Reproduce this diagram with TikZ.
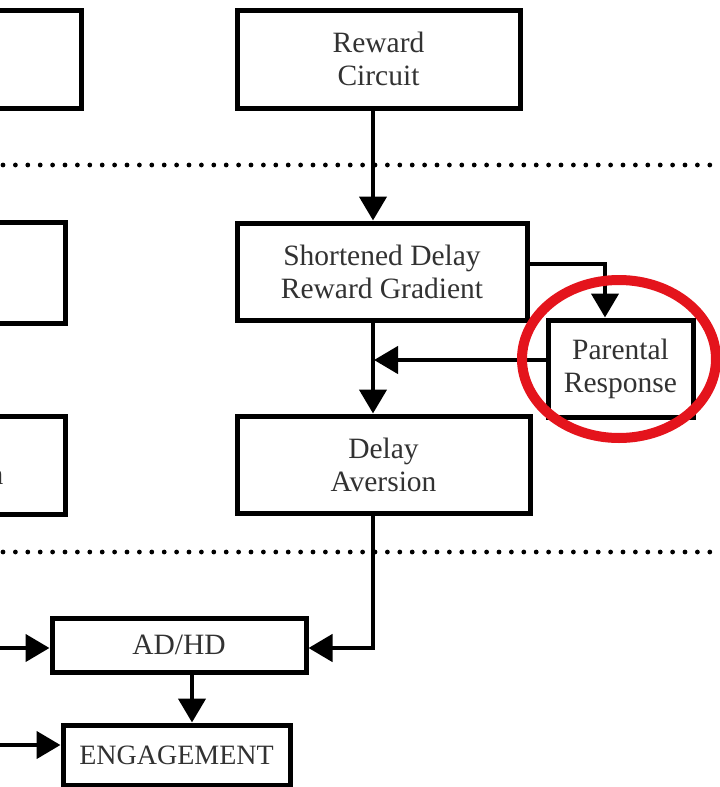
\documentclass[tikz,border=0pt]{standalone}
\usepackage{fontspec}
\setmainfont{Liberation Serif}
\usetikzlibrary{arrows.meta}

\definecolor{ringred}{RGB}{228,20,28}
\definecolor{txtgray}{RGB}{50,50,50}

\tikzset{
  blk/.style={draw=black, line width=5pt, rectangle, inner sep=0pt,
    align=center, text=txtgray, font=\fontsize{29.5}{33}\selectfont},
  conn/.style={line width=4.5pt, -{Triangle[length=24pt,width=27pt]}},
  sep/.style={line width=4.8pt, line cap=round, dash pattern=on 0pt off 12.4pt},
}

\begin{document}
\begin{tikzpicture}[x=1pt, y=-1pt]
  \useasboundingbox (0,0) rectangle (720,787);

  % boxes of the left column (cut off by the page edge)
  \node[blk, minimum width=111pt, minimum height=98pt] (lt) at (25.5,59) {};
  \node[blk, minimum width=95pt, minimum height=101pt] (lm) at (17.5,272.5) {};
  \node[blk, minimum width=95pt, minimum height=98pt] (lb) at (17.5,465) {};
  \node[text=txtgray, font=\fontsize{29.5}{33}\selectfont, inner sep=0pt] (lbtext) at (-4,478) {n};

  % main column
  \node[blk, minimum width=283pt, minimum height=98pt] (rc) at (378.5,59) {Reward\\Circuit};
  \node[blk, minimum width=290pt, minimum height=97pt] (sd) at (382,271.5) {Shortened Delay\\Reward Gradient};
  \node[blk, minimum width=145pt, minimum height=97pt] (pr) at (620.5,368.5) {Parental\\Response};
  \node[blk, minimum width=293pt, minimum height=97pt] (da) at (383.5,464.5) {Delay\\Aversion};
  \node[blk, minimum width=254pt, minimum height=54pt] (ad) at (179,645) {AD/HD};
  \node[blk, minimum width=227pt, minimum height=60pt, font=\fontsize{28}{33}\selectfont] (en) at (176.5,755) {ENGAGEMENT};

  % dotted separators
  \coordinate (s1a) at (3,165);  \coordinate (s1b) at (712,165);
  \coordinate (s2a) at (3,552);  \coordinate (s2b) at (712,552);
  \draw[sep] (s1a) -- (s1b);
  \draw[sep] (s2a) -- (s2b);

  % connectors
  \coordinate (col) at (373,0);
  \draw[conn] (rc.south -| col) -- (sd.north -| col);
  \draw[conn] ([yshift=7.5pt]sd.east) -| ([xshift=-15.5pt]pr.north);
  \draw[conn] (sd.south -| col) -- (da.north -| col);
  \draw[conn, shorten >=-1pt] ([yshift=8.5pt]pr.west) -- ([yshift=8.5pt,xshift=2pt]pr.west -| col);
  \draw[conn] (da.south -| col) |- ([yshift=-3pt]ad.east);
  \coordinate (inA) at (0,648);
  \coordinate (inE) at (0,745);
  \draw[conn] (inA) -- (ad.west |- inA);
  \draw[conn] (inE) -- (en.west |- inE);
  \coordinate (down) at (192,0);
  \draw[conn] (ad.south -| down) -- (en.north -| down);

  % highlight ring
  \draw[ringred, line width=10pt] (619,359) ellipse [x radius=97pt, y radius=79pt];
\end{tikzpicture}
\end{document}
